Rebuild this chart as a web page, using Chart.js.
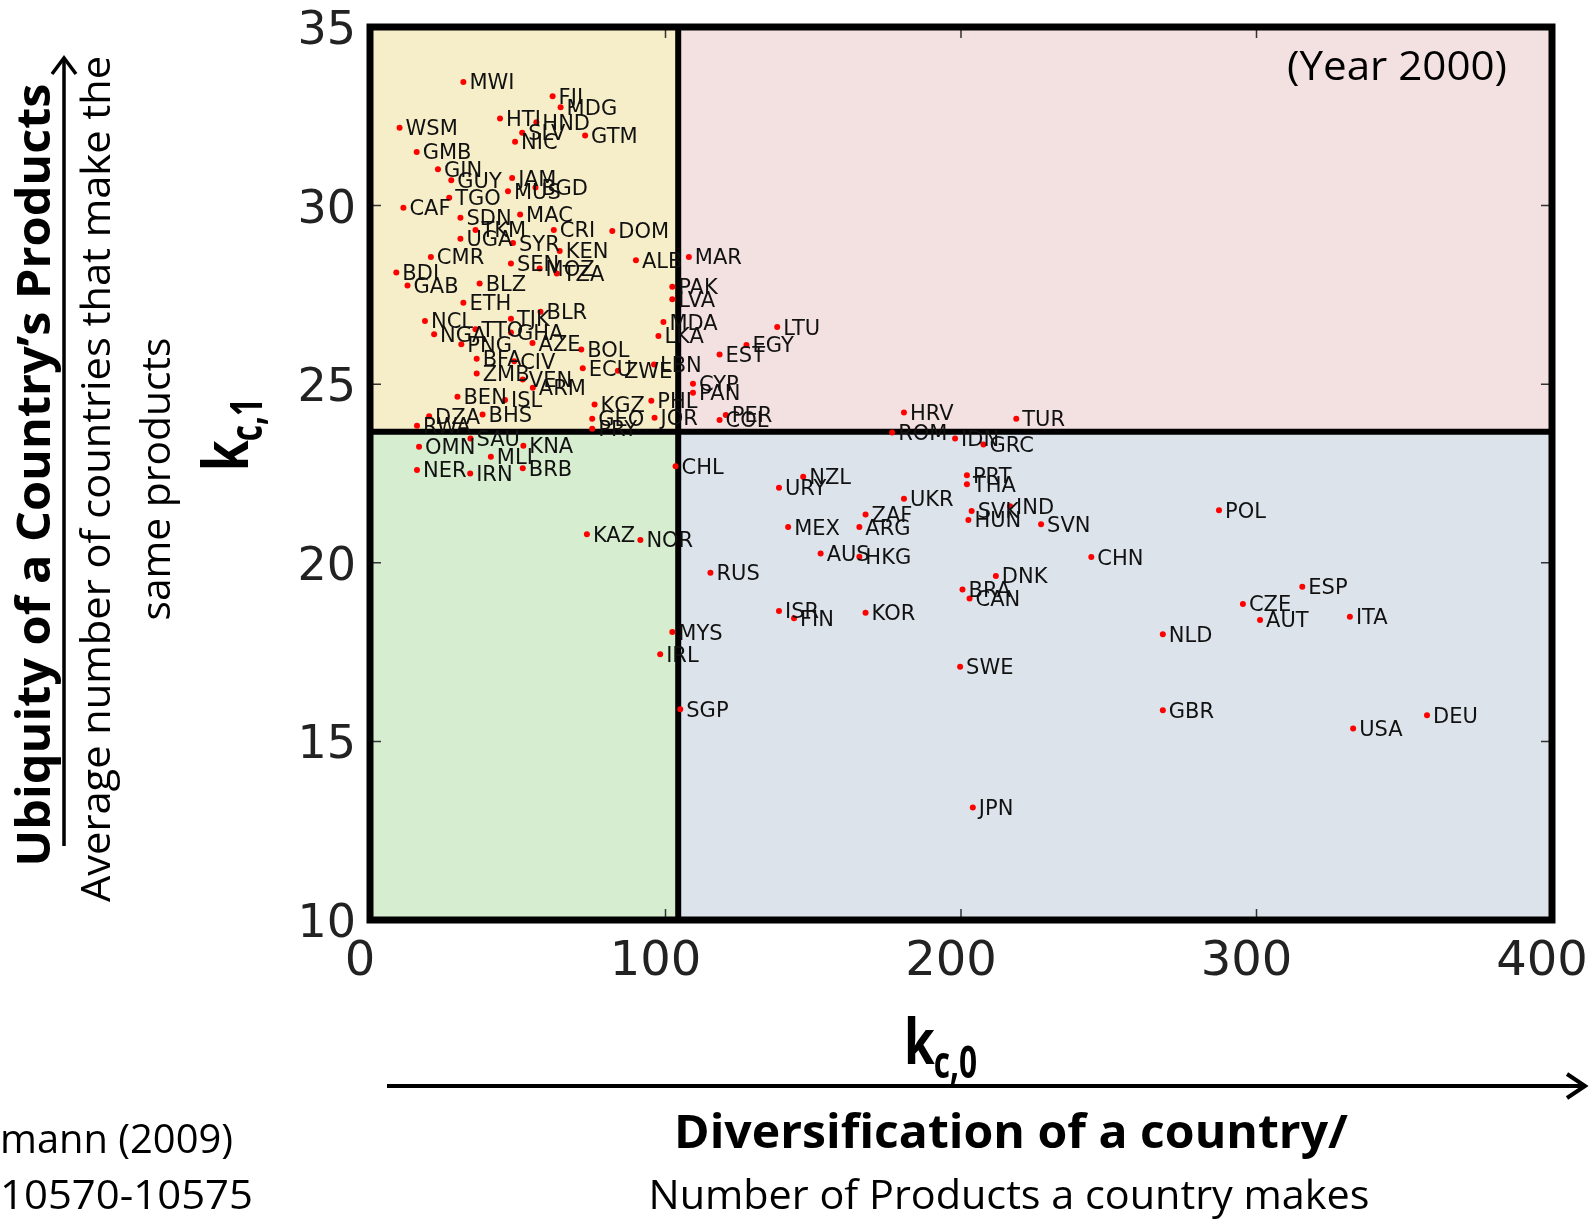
<!DOCTYPE html>
<html>
<head>
<meta charset="utf-8">
<title>Diversification vs ubiquity, 2000</title>
<script src="https://cdn.jsdelivr.net/npm/chart.js@4.4.1/dist/chart.umd.min.js"></script>
<style>
  html, body { margin: 0; padding: 0; background: #fff; }
  #wrap { width: 1589px; height: 1220px; }
</style>
</head>
<body>
<div id="wrap"><canvas id="kc-chart" width="1589" height="1220"></canvas></div>
<script>
// country codes, diversification (kc0) and average ubiquity (kc1)
var countries = [
  'MWI','FJI','MDG','WSM','HTI','HND','SLV','NIC','GTM','GMB',
  'GIN','JAM','GUY','TGO','MUS','BGD','CAF','SDN','MAC','TKM',
  'CRI','DOM','UGA','KEN','CMR','ALB','MAR','BDI','GAB','BLZ',
  'TZA','PAK','LVA','ETH','BLR','NCL','NGA','MDA','LKA','LTU',
  'EGY','EST','PNG','AZE','BOL','BFA','CIV','LBN','ECU','ZWE',
  'ZMB','VEN','ARM','BEN','ISL','CYP','PAN','PHL','KGZ','PER',
  'COL','GEO','PRY','JOR','RWA','DZA','BHS','OMN','SAU','NER',
  'IRN','MLI','BRB','KNA','CHL','KAZ','NOR','MYS','IRL','SGP',
  'RUS','NZL','URY','UKR','ZAF','ARG','MEX','AUS','HKG','ISR',
  'FIN','KOR','PRT','THA','SVK','HUN','IND','SVN','CHN','BRA',
  'CAN','DNK','SWE','POL','CZE','AUT','ESP','ITA','NLD','GBR',
  'USA','DEU','JPN','HRV','ROM','IDN','GRC','TUR',
  'SYR','SEN','MOZ','TTO','GHA','TJK'
];
var kc0 = [
  31.6, 61.8, 64.5, 10.0, 44.0, 56.3, 51.5, 49.1, 72.8, 15.8,
  23.0, 48.1, 27.5, 26.8, 46.7, 56.0, 11.3, 30.6, 50.8, 35.7,
  62.2, 82.0, 30.6, 64.2, 20.6, 90.0, 107.9, 8.9, 12.7, 37.1,
  63.2, 102.3, 102.3, 31.6, 57.7, 18.6, 21.7, 99.3, 97.6, 137.8,
  127.4, 118.3, 30.9, 55.0, 71.5, 36.1, 48.8, 96.1, 72.0, 83.9,
  36.1, 51.7, 55.1, 29.6, 45.7, 109.3, 109.3, 95.2, 76.0, 120.4,
  118.3, 75.2, 75.2, 96.3, 15.9, 20.0, 38.1, 16.6, 34.0, 15.9,
  33.9, 40.9, 51.7, 51.9, 103.4, 73.4, 91.5, 102.3, 98.2, 105.0,
  115.2, 146.6, 138.4, 180.7, 167.7, 165.6, 141.5, 152.5, 165.6, 138.4,
  143.5, 167.7, 202.0, 202.0, 203.6, 202.5, 216.6, 227.1, 244.1, 200.5,
  202.9, 211.8, 199.7, 287.3, 295.4, 301.2, 315.5, 331.6, 268.3, 268.3,
  332.7, 357.7, 204.0, 180.7, 176.7, 198.0, 207.6, 218.7,
  48.4, 47.7, 57.4, 35.7, 47.7, 47.7
];
var kc1 = [
  33.46, 33.06, 32.75, 32.18, 32.44, 32.33, 32.04, 31.79, 31.96, 31.50,
  31.02, 30.77, 30.71, 30.22, 30.40, 30.51, 29.94, 29.66, 29.75, 29.32,
  29.32, 29.29, 29.07, 28.73, 28.56, 28.47, 28.56, 28.13, 27.76, 27.82,
  28.10, 27.73, 27.38, 27.28, 27.03, 26.77, 26.40, 26.74, 26.35, 26.60,
  26.10, 25.83, 26.12, 26.15, 25.97, 25.71, 25.64, 25.55, 25.45, 25.38,
  25.30, 25.13, 24.90, 24.65, 24.56, 25.01, 24.76, 24.54, 24.43, 24.14,
  24.00, 24.03, 23.75, 24.06, 23.84, 24.10, 24.15, 23.25, 23.48, 22.60,
  22.50, 22.97, 22.65, 23.28, 22.70, 20.80, 20.64, 18.06, 17.44, 15.90,
  19.72, 22.41, 22.10, 21.79, 21.35, 21.00, 21.00, 20.26, 20.17, 18.65,
  18.45, 18.60, 22.45, 22.20, 21.45, 21.20, 21.58, 21.08, 20.16, 19.25,
  19.00, 19.63, 17.09, 21.47, 18.85, 18.40, 19.33, 18.49, 18.00, 15.87,
  15.36, 15.73, 13.15, 24.21, 23.65, 23.48, 23.31, 24.03,
  28.95, 28.38, 28.24, 26.54, 26.45, 26.83
];
var xTicks = [0, 100, 200, 300, 400];
var yTicks = [10, 15, 20, 25, 30, 35];
var splitKc0 = 104.3;  // vertical divider
var splitKc1 = 23.67;  // horizontal divider

var points = countries.map(function (c, i) { return { x: kc0[i], y: kc1[i] }; });

// draw text squeezed or stretched to a given width
function fitText(c, text, font, cx, cy, width, angle) {
  c.save();
  c.font = font;
  c.translate(cx, cy);
  c.rotate(angle || 0);
  var w = c.measureText(text).width;
  c.scale(width / w, 1);
  c.textAlign = 'center';
  c.textBaseline = 'middle';
  c.fillText(text, 0, 0);
  c.restore();
}

function arrowHead(c, x, y, dx, dy, len, half) {
  c.beginPath();
  c.moveTo(x - dx * len - dy * half, y - dy * len + dx * half);
  c.lineTo(x, y);
  c.lineTo(x - dx * len + dy * half, y - dy * len - dx * half);
  c.stroke();
}

// coloured quadrants, inward ticks, divider lines and the frame
var quadrants = {
  id: 'quadrants',
  beforeDatasetsDraw: function (chart) {
    var c = chart.ctx, a = chart.chartArea;
    var sx = chart.scales.x, sy = chart.scales.y;
    var mx = sx.getPixelForValue(splitKc0), my = sy.getPixelForValue(splitKc1);
    c.save();
    c.fillStyle = '#f6eec8'; c.fillRect(a.left, a.top, mx - a.left, my - a.top);
    c.fillStyle = '#f3e1e1'; c.fillRect(mx, a.top, a.right - mx, my - a.top);
    c.fillStyle = '#d6edcf'; c.fillRect(a.left, my, mx - a.left, a.bottom - my);
    c.fillStyle = '#dce3ea'; c.fillRect(mx, my, a.right - mx, a.bottom - my);

    c.strokeStyle = '#333'; c.lineWidth = 1.5;
    c.beginPath();
    xTicks.forEach(function (v) {
      var p = sx.getPixelForValue(v);
      c.moveTo(p, a.bottom); c.lineTo(p, a.bottom - 11);
      c.moveTo(p, a.top); c.lineTo(p, a.top + 11);
    });
    yTicks.forEach(function (v) {
      var p = sy.getPixelForValue(v);
      c.moveTo(a.left, p); c.lineTo(a.left + 11, p);
      c.moveTo(a.right, p); c.lineTo(a.right - 11, p);
    });
    c.stroke();

    c.strokeStyle = '#000'; c.lineWidth = 6;
    c.beginPath();
    c.moveTo(mx, a.top); c.lineTo(mx, a.bottom);
    c.moveTo(a.left, my); c.lineTo(a.right, my);
    c.stroke();
    c.lineWidth = 7;
    c.strokeRect(a.left, a.top, a.right - a.left, a.bottom - a.top);
    c.restore();
  }
};

// country code next to each dot
var codeLabels = {
  id: 'codeLabels',
  afterDatasetsDraw: function (chart) {
    var c = chart.ctx;
    var meta = chart.getDatasetMeta(0);
    c.save();
    c.font = '21px "DejaVu Sans"';
    c.fillStyle = '#111';
    c.textAlign = 'left';
    c.textBaseline = 'middle';
    meta.data.forEach(function (el, i) {
      c.fillText(countries[i], el.x + 6, el.y + 2);
    });
    c.restore();
  }
};

// slide captions, subscripted axis symbols and arrows
var captions = {
  id: 'captions',
  afterDraw: function (chart) {
    var c = chart.ctx;
    c.save();
    c.fillStyle = '#000';
    c.strokeStyle = '#000';

    fitText(c, '(Year 2000)', '40px "Open Sans"', 1397, 69, 220);

    fitText(c, 'Ubiquity of a Country\u2019s Products', 'bold 46px "Open Sans"', 37, 475, 783, -Math.PI / 2);
    fitText(c, 'Average number of countries that make the', '40px "Open Sans"', 99, 479, 846, -Math.PI / 2);
    fitText(c, 'same products', '40px "Open Sans"', 159, 479, 283, -Math.PI / 2);

    c.lineWidth = 3.5;
    c.beginPath(); c.moveTo(64, 846); c.lineTo(64, 60); c.stroke();
    arrowHead(c, 64, 58, 0, -1, 16, 12);

    c.lineWidth = 4;
    c.beginPath(); c.moveTo(387, 1086); c.lineTo(1582, 1086); c.stroke();
    arrowHead(c, 1585, 1086, 1, 0, 18, 12);

    fitText(c, 'Diversification of a country/', 'bold 46px "Open Sans"', 1011, 1135, 674);
    fitText(c, 'Number of Products a country makes', '40px "Open Sans"', 1009, 1198, 721);

    // citation, running off the left edge
    c.font = '40px "Open Sans"';
    c.textAlign = 'right';
    c.textBaseline = 'middle';
    var s1 = 233 / c.measureText('mann (2009)').width;
    c.save(); c.translate(233, 1142); c.scale(s1, 1);
    c.fillText('Hidalgo and Hausmann (2009)', 0, 0); c.restore();
    var s2 = 253 / c.measureText('10570-10575').width;
    c.save(); c.translate(253, 1198); c.scale(s2, 1);
    c.fillText('PNAS 106: 10570-10575', 0, 0); c.restore();

    // k with subscript, horizontal (kc,0) and rotated (kc,1)
    function kSymbol(sub) {
      c.textAlign = 'left';
      c.textBaseline = 'alphabetic';
      c.font = 'bold 62px "Open Sans"';
      c.save(); c.scale(0.8, 1); c.fillText('k', 0, 0); c.restore();
      var kw = c.measureText('k').width * 0.8;
      c.font = 'bold 44px "Open Sans"';
      c.save(); c.translate(kw - 1, 14); c.scale(0.72, 1); c.fillText(sub, 0, 0); c.restore();
    }
    c.save(); c.translate(904, 1064); kSymbol('c,0'); c.restore();
    c.save(); c.translate(248, 471); c.rotate(-Math.PI / 2); kSymbol('c,1'); c.restore();

    c.restore();
  }
};

new Chart(document.getElementById('kc-chart'), {
  type: 'scatter',
  data: {
    datasets: [{
      data: points,
      pointRadius: 3,
      pointBackgroundColor: '#ff0000',
      pointBorderWidth: 0
    }]
  },
  plugins: [quadrants, codeLabels, captions],
  options: {
    responsive: false,
    animation: false,
    layout: { padding: { left: 290, right: 37, top: 27, bottom: 230 } },
    plugins: { legend: { display: false }, tooltip: { enabled: false } },
    scales: {
      x: {
        type: 'linear', min: 0, max: 400,
        afterBuildTicks: function (s) { s.ticks = xTicks.map(function (v) { return { value: v }; }); },
        afterFit: function (s) { s.height = 70; s.paddingLeft = 0; s.paddingRight = 0; },
        grid: { display: false, drawTicks: false },
        border: { display: false },
        ticks: { font: { family: 'DejaVu Sans', size: 48 }, color: '#222', padding: 14, labelOffset: -10, maxRotation: 0 }
      },
      y: {
        type: 'linear', min: 10, max: 35,
        afterBuildTicks: function (s) { s.ticks = yTicks.map(function (v) { return { value: v }; }); },
        afterFit: function (s) { s.width = 80; s.paddingTop = 0; s.paddingBottom = 0; },
        grid: { display: false, drawTicks: false },
        border: { display: false },
        ticks: { font: { family: 'DejaVu Sans', size: 46 }, color: '#222', padding: 14, labelOffset: 5 }
      }
    }
  }
});
</script>
</body>
</html>
